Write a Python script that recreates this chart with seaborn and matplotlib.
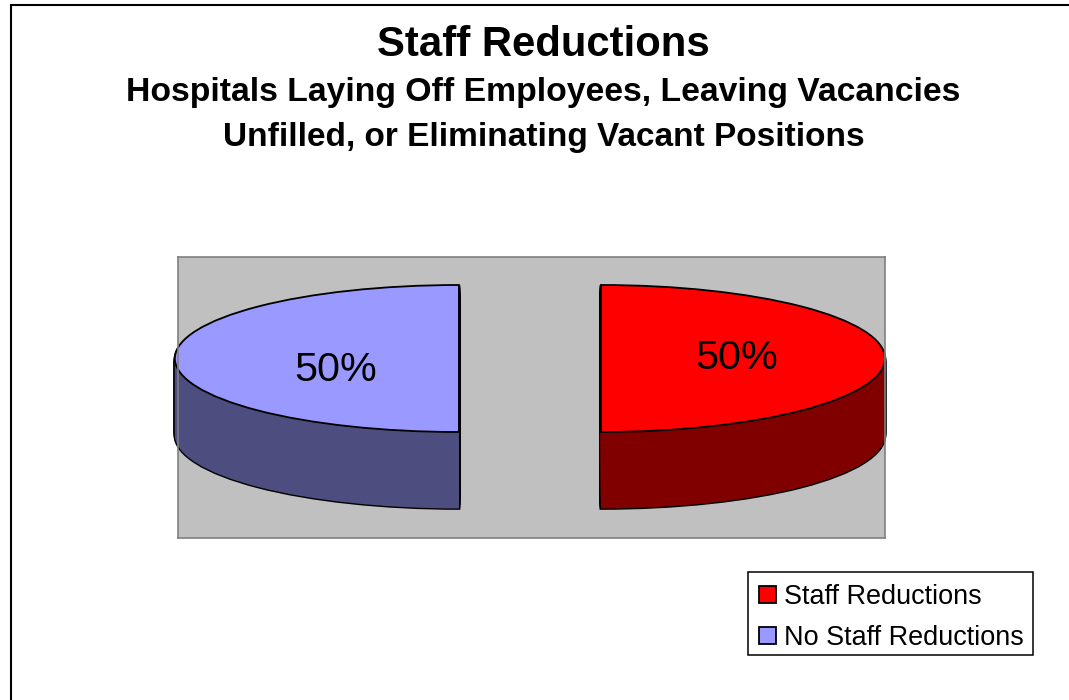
import numpy as np
import pandas as pd
import seaborn as sns
import matplotlib.pyplot as plt
from matplotlib.patches import Rectangle

# values
categories = ["Staff Reductions", "No Staff Reductions"]
shares = [50, 50]
top_colors = ["#FF0000", "#9999FF"]
side_colors = ["#800000", "#4D4D80"]

df = pd.DataFrame({"category": categories, "share": shares})

sns.set_theme(style="white")
plt.rcParams["font.family"] = ["Liberation Sans", "DejaVu Sans"]

W, H = 1069, 700
fig = plt.figure(figsize=(W / 100, H / 100), dpi=100)

# outer chart frame, runs off the right and bottom of the picture
fig.add_artist(Rectangle((10.5 / W, -0.1), 1.2, 1.1 - 4.5 / H, transform=fig.transFigure,
                         fill=False, edgecolor="black", linewidth=1.5))

fig.text(543.5 / W, 1 - 44.5 / H, "Staff Reductions", ha="center", va="center",
         fontsize=30.2, fontweight="bold", color="black")
fig.text(543.5 / W, 1 - 92.5 / H, "Hospitals Laying Off Employees, Leaving Vacancies",
         ha="center", va="center", fontsize=24.3, fontweight="bold", color="black")
fig.text(543.5 / W, 1 - 137.5 / H, "Unfilled, or Eliminating Vacant Positions",
         ha="center", va="center", fontsize=24.05, fontweight="bold", color="black")

# plot area
ax = fig.add_axes([178 / W, 1 - 538 / H, (885 - 178) / W, (538 - 257) / H])
ax.set_facecolor("#C0C0C0")

explode = [0.25, 0.25]
depth = 1.04


def draw_pie(y, colors, **wedge):
    return ax.pie(df["share"], colors=colors, startangle=90, counterclock=False,
                  explode=explode, center=(0, y), frame=True, wedgeprops=wedge)


# thick side of the pie: black silhouette, then the dark fill on top of it
levels = np.arange(depth, 0, -0.02)
for y in levels:
    draw_pie(-y, side_colors, edgecolor="black", linewidth=2.0)
for y in levels:
    draw_pie(-y, side_colors, edgecolor="none", linewidth=0)

wedges, _, pct_texts = ax.pie(df["share"], colors=top_colors, startangle=90, counterclock=False,
                              explode=explode, frame=True, autopct="%.0f%%",
                              wedgeprops=dict(edgecolor="black", linewidth=1.3),
                              textprops=dict(fontsize=29.7, color="black"))
pct_texts[0].set_position((0.729, 0.005))
pct_texts[1].set_position((-0.684, -0.155))

# squash the circle into the ellipse seen in the picture
ax.set_aspect("auto")
ax.set_xlim(-1.239, 1.25)
ax.set_ylim(-2.442, 1.381)
ax.set_xticks([])
ax.set_yticks([])
for s in ax.spines.values():
    s.set_visible(True)
    s.set_color("#808080")
    s.set_linewidth(1.2)

# legend box drawn apart so its height can follow the picture
fig.add_artist(Rectangle((748 / W, 1 - 655 / H), 284.5 / W, 83.5 / H, transform=fig.transFigure,
                         facecolor="white", edgecolor="black", linewidth=1.1))
leg = fig.legend(wedges, categories, loc="upper left",
                 bbox_to_anchor=(748 / W, 1 - 572.5 / H), bbox_transform=fig.transFigure,
                 fontsize=19.47, frameon=False, borderaxespad=0, borderpad=0.42, labelspacing=0.56,
                 handlelength=0.62, handleheight=0.61, handletextpad=0.285,
                 labelcolor="black")

fig.savefig("out.png", dpi=100)
